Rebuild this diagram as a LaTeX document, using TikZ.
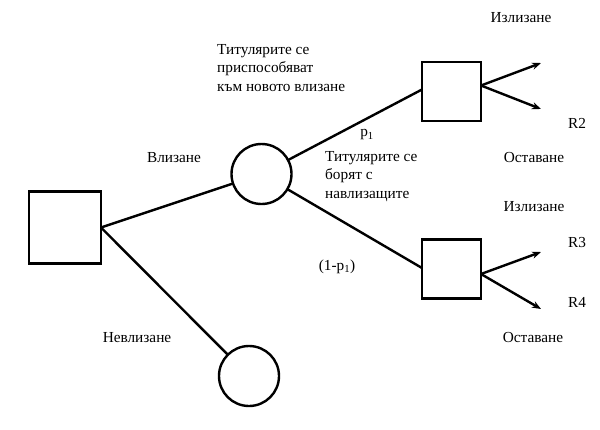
\documentclass[tikz,border=0pt]{standalone}
\usepackage{fontspec}
\setmainfont{Liberation Serif}
\usetikzlibrary{arrows.meta}
\begin{document}
\begin{tikzpicture}[x=1pt,y=-1pt,
  ln/.style={line width=2.4pt},
  sq/.style={draw,line width=2.4pt,minimum size=#1,inner sep=0pt,outer sep=0pt},
  circ/.style={draw,circle,line width=2.4pt,minimum size=60pt,inner sep=0pt,outer sep=0pt},
  lbl/.style={font=\fontsize{15.3}{18.5}\selectfont,inner sep=0pt},
  arr/.style={line width=2.4pt,-{Stealth[length=9pt,width=7pt]}}]
\useasboundingbox (0,0) rectangle (600,429);
\node[sq=72pt] (L) at (65,227.5) {};
\node[circ] (C1) at (261.5,174) {};
\node[circ] (C2) at (249,376) {};
\node[sq=59pt] (S1) at (451.5,91.5) {};
\node[sq=59pt] (S2) at (451.5,269) {};
\coordinate (t1) at (541,63);
\coordinate (t2) at (541,109);
\coordinate (t3) at (541,252);
\coordinate (t4) at (541,309);
\draw[ln] (L.east) -- (C1);
\draw[ln] (L.east) -- (C2);
\draw[ln] (C1) -- ([yshift=2pt]S1.west);
\draw[ln] (C1) -- ([yshift=1pt]S2.west);
\draw[arr] ([yshift=6pt]S1.east) -- (t1);
\draw[arr] ([yshift=6pt]S1.east) -- (t2);
\draw[arr] ([yshift=-5pt]S2.east) -- (t3);
\draw[arr] ([yshift=-5pt]S2.east) -- (t4);
\node[lbl] (a1) at (521,18) {Излизане};
\node[lbl,align=left,anchor=north west] (a2) at (217,44) {Титулярите се\\приспособяват\\към новото влизане};
\node[lbl] (a3) at (367,135) {p\textsubscript{1}};
\node[lbl,align=left,anchor=north west] (a4) at (325,151) {Титулярите се\\борят с\\навлизащите};
\node[lbl] (a5) at (577,123) {R2};
\node[lbl] (a6) at (534,158) {Оставане};
\node[lbl] (a7) at (534,207) {Излизане};
\node[lbl] (a8) at (577,243) {R3};
\node[lbl] (a9) at (577,302) {R4};
\node[lbl] (a10) at (337,267) {(1-p\textsubscript{1})};
\node[lbl] (a11) at (533,338) {Оставане};
\node[lbl] (a12) at (174,158) {Влизане};
\node[lbl] (a13) at (137,338) {Невлизане};
\end{tikzpicture}
\end{document}
